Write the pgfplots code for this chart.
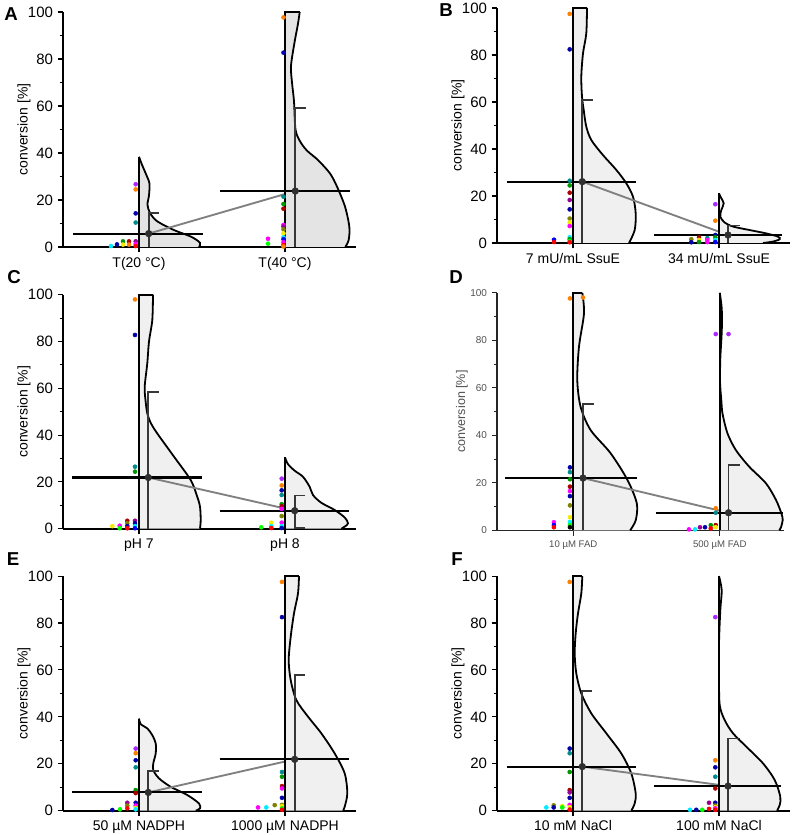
\documentclass[border=0pt]{standalone}
\usepackage{fontspec}
\setmainfont{Liberation Sans}
\usepackage{pgfplots}
\usepackage{pgfplotstable}
\pgfplotsset{compat=1.18}

\definecolor{cO}{RGB}{255,128,0}
\definecolor{cN}{RGB}{0,0,170}
\definecolor{cT}{RGB}{0,140,140}
\definecolor{cG}{RGB}{0,150,0}
\definecolor{cR}{RGB}{170,0,0}
\definecolor{cRR}{RGB}{255,0,0}
\definecolor{cP}{RGB}{170,40,255}
\definecolor{cM}{RGB}{255,0,255}
\definecolor{cY}{RGB}{245,235,0}
\definecolor{cC}{RGB}{0,235,255}
\definecolor{cL}{RGB}{128,128,0}
\definecolor{cK}{RGB}{0,0,0}
\definecolor{cLi}{RGB}{0,255,0}
\definecolor{cB}{RGB}{0,0,255}
\definecolor{cD}{RGB}{150,0,150}
\definecolor{errc}{RGB}{55,55,55}
\definecolor{linkc}{RGB}{128,128,128}
\definecolor{vfA}{RGB}{228,228,228}
\definecolor{vf}{RGB}{240,240,240}
\definecolor{dgray}{RGB}{80,80,80}

\pgfplotsset{
  panel/.style={
    scale only axis, width=219.75pt, height=176.25pt,
    xmin=-76, xmax=217, ymin=0, ymax=100,
    axis x line*=bottom, axis y line*=left,
    axis line style={line width=1.2pt},
    ytick={0,20,...,100}, minor ytick={10,30,...,90},
    tick align=outside, major tick length=4pt, minor tick length=2.5pt,
    xtick={0,146},
    every tick/.style={black, line width=0.8pt},
    /pgf/number format/assume math mode=true,
    yticklabel style={font=\fontsize{11.25}{13}\selectfont},
    xticklabel style={font=\fontsize{10.5}{12}\selectfont},
    ylabel={conversion [\%]},
    ylabel style={font=\fontsize{10.5}{12}\selectfont, at={(axis description cs:-0.133,0.5)}, anchor=center},
    clip=false,
  },
  pts/.style={
    scatter, only marks, scatter src=explicit symbolic,
    scatter/classes={
      o={mark=*, cO, mark size=1.5pt},
      n={mark=*, cN, mark size=1.5pt},
      t={mark=*, cT, mark size=1.5pt},
      g={mark=*, cG, mark size=1.5pt},
      r={mark=*, cR, mark size=1.5pt},
      R={mark=*, cRR, mark size=1.5pt},
      p={mark=*, cP, mark size=1.5pt},
      m={mark=*, cM, mark size=1.5pt},
      y={mark=*, cY, mark size=1.5pt},
      c={mark=*, cC, mark size=1.5pt},
      l={mark=*, cL, mark size=1.5pt},
      k={mark=*, cK, mark size=1.5pt},
      G={mark=*, cLi, mark size=1.5pt},
      b={mark=*, cB, mark size=1.5pt},
      D={mark=*, cD, mark size=1.5pt}
    },
  },
  vline/.style={black, line width=1.35pt},
  errbar/.style={errc, line width=1.3pt},
  meanline/.style={black, line width=1.6pt},
  linkline/.style={linkc, line width=1.4pt},
  meanmark/.style={only marks, mark=*, mark size=2.5pt, errc, mark options={fill=errc!85!black, draw=errc!85!black}},
}

% violin: table, last frame index k, k+1, fill colour
\newcommand{\violin}[4]{%
  \addplot[draw=none, fill=#4] table {#1} --cycle;
  \addplot[vline, skip coords between index={#3}{999}] table {#1};
  \addplot[vline, smooth, skip coords between index={0}{#2}] table {#1};
}

% ---------------- Panel A ----------------
\pgfplotstableread{
x y
0 0
0 38.4
3 35
8 30
10.5 27
10 22
8.5 18
11 14.5
18 11
35 7.2
52 4.4
61 1.8
60 0
}\vAa
\pgfplotstableread{
x y
146 0
146 100
160.7 100
159 95
155.5 87
152 77
153 70
155 62
156.5 50
161 45
168 41
179 37
191 31.3
198 25.7
206 17.2
210.3 8.7
209.7 3
206.3 0
}\vAb
\pgfplotstableread{
x y c
-3.3 26.7 p
-3.3 24.5 o
-3.3 14.3 n
-3.3 10.4 t
-3.3 2.4 D
-3.3 1.3 m
-3.3 0.4 R
-10 2.4 r
-10 1.0 o
-16 2.4 g
-16 1.0 y
-22 1.1 n
-28 0.4 c
144.5 97.7 o
144.5 82.7 n
144.5 21.4 t
144.5 18.3 g
144.5 16.3 r
144.5 9.4 m
144.5 8.7 D
144.5 7.5 l
144.5 5.8 y
144.5 4.1 c
144.5 3.3 b
144.5 2.0 m
144.5 0.9 R
144.5 0.2 o
129 3.5 m
129 1.4 G
}\pA

% ---------------- Panel B ----------------
\pgfplotstableread{
x y
0 0
0 100
14 100
13.3 89.2
10 80.7
8.3 70.8
9 62.3
10.7 56.6
13.3 49.5
18.3 43.8
30 37.4
43.3 31.1
53.3 25.4
60 19.7
62.7 12.6
61.7 5.5
56 0
}\vBa
\pgfplotstableread{
x y
146 0
146 21.1
147.7 19.5
150.7 16.9
148.3 14
147.3 11.2
151.7 8.7
160 7
176.7 5.5
193 4.1
205 2.7
206.7 1.6
200 0.6
190 0
}\vBb
\pgfplotstableread{
x y c
-3.3 97.5 o
-3.3 82.4 n
-3.3 26.5 t
-3.3 24.5 g
-3.3 21.4 r
-3.3 18.3 D
-3.3 14.3 n
-3.3 10.4 l
-3.3 8.7 y
-3.3 7.2 m
-3.3 2.4 c
-3.3 1.6 g
-3.3 0.8 G
-3.3 0.3 R
-19 1.4 b
-19 0.4 R
142.3 16.5 p
142.3 9.5 o
142.3 3.4 n
142.3 2.4 g
142.3 1.3 c
142.3 0.4 b
134.3 2.1 t
134.3 1.3 m
134.3 0.4 m
126 2.4 r
126 1.3 y
126 0.4 g
118.3 1.6 l
118.3 0.3 n
}\pB

% ---------------- Panel C ----------------
\pgfplotstableread{
x y
0 0
0 100
14 100
13.3 89.2
10 80
8.3 70.7
5.7 60.7
6.5 55
8.3 49.3
12 45
18.3 40.7
35 30.8
51.7 20.8
58 14
61 9.4
61.7 3.7
61 0
}\vCa
\pgfplotstableread{
x y
146 0
146 30.5
149 27.6
155.7 24.8
164 22.2
170.7 17.9
174 14.4
182.3 11.1
195.7 8
205.7 4.8
209 2.3
205.7 0.9
202.3 0
}\vCb
\pgfplotstableread{
x y c
-4 98 o
-4 82.8 n
-4 26.5 t
-4 24.4 g
-4 3.4 D
-4 2.3 n
-4 1.1 c
-4 0.2 b
-11.7 3.4 r
-11.7 2.3 l
-11.7 1.1 n
-11.7 0.2 R
-19.3 1.3 m
-19.3 0.2 G
-26.7 1.1 y
142.7 21.4 p
142.7 18.5 o
142.7 16.4 n
142.7 14.4 t
142.7 10.5 g
142.7 9.6 r
142.7 8.5 m
142.7 5.4 l
142.7 2.6 m
142.7 1.1 c
142.7 0.3 n
132.3 2.6 y
132.3 1.1 c
132.3 0.3 R
122.3 0.6 G
}\pC

% ---------------- Panel D ----------------
\pgfplotstableread{
x y
0 0
0 100
9 100
10.7 91.3
5.7 77.3
4 63.3
7.3 52
17.3 42.2
37.3 32.4
54 21.2
63.3 11.4
62.3 4.3
56.7 0
}\vDa
\pgfplotstableread{
x y
146 0
146 100
148 93
148 84
146.5 72
146.3 62
147.5 55
148.7 49.2
153.7 40.8
162 33.8
175.3 26.8
192 19.8
202 12.8
207.5 7
208.7 4.3
207 1.3
205.3 0
}\vDb
\pgfplotstableread{
x y c
-3.3 97.6 o
9.7 98 o
-3.3 26.5 n
-3.3 24.5 t
-3.3 21.5 g
-3.3 18.4 r
-3.3 16.5 m
-3.3 14.4 n
-3.3 10.5 l
-3.3 5.5 y
-3.3 3.5 c
-3.3 2.2 G
-3.3 1.3 k
-19.3 3.4 m
-19.3 2.2 b
-19.3 1.3 R
142 82.6 p
154.7 82.6 p
142 9.3 o
142 7.4 t
142 2.2 r
142 1.3 y
137 2.2 g
137 0.8 R
131.3 1.3 n
126.3 1.3 D
121.3 0.4 c
115.3 0.4 m
}\pD

% ---------------- Panel E ----------------
\pgfplotstableread{
x y
0 0
0 39.3
1.7 36.9
8.3 35.1
13.3 32.2
16.7 28.7
16.7 24.4
14.3 20.2
14.3 17.3
20 13.8
31.7 10.2
48.3 6.7
60 3.1
61 1
56.7 0
}\vEa
\pgfplotstableread{
x y
146 0
146 100
160 100
159 92.6
155 84.1
151.7 74.1
149.7 64.2
151.7 55.7
157.3 47.2
169 40.1
182.3 33
195.7 24.4
205.7 15.9
208.3 7.4
205.7 1.7
204 0
}\vEb
\pgfplotstableread{
x y c
-3.3 26.5 p
-3.3 24.5 o
-3.3 21.5 n
-3.3 18.5 t
-3.3 8.8 g
-3.3 7.5 r
-3.3 3.4 n
-3.3 2.2 m
-3.3 1.2 y
-3.3 0.6 c
-11.7 3.4 D
-11.7 2.2 l
-11.7 1.0 R
-19 0.6 G
-26.7 0.3 n
143 97.5 o
143 82.5 n
143 16.5 t
143 14.5 g
143 10.5 r
143 9.5 m
143 5.5 n
143 2.5 l
143 2.0 y
143 1.0 G
143 0.4 R
135.7 2.4 l
127.3 1.4 c
119 1.4 m
}\pE

% ---------------- Panel F ----------------
\pgfplotstableread{
x y
0 0
0 100
9.3 100
8.3 92.6
5 84.1
2.7 75.6
1.7 67
3.3 58.5
8.3 50
18.3 41.5
33.3 33
48.3 24.4
58.3 15.9
62.7 7.4
61.7 3.1
58.3 0
}\vFa
\pgfplotstableread{
x y
146 0
146 100
148.7 94
147.3 85.5
146 71.3
146 57
146.7 45
151.7 38.6
160 33
173.3 27.3
190 20.2
201.7 13.1
207.3 6
206.7 2.4
204 0
}\vFb
\pgfplotstableread{
x y c
-3.3 97.5 o
-3.3 26.5 n
-3.3 24.5 t
-3.3 16.5 g
-3.3 8.8 r
-3.3 7.8 D
-3.3 5.5 n
-3.3 2.5 m
-3.3 1.5 y
-3.3 0.5 R
-10.7 2.0 y
-10.7 1.4 G
-19.3 2.3 l
-19.3 1.4 n
-26.7 1.4 c
142.3 82.5 p
142.3 21.5 o
142.3 18.5 n
142.3 14.5 t
142.3 9.5 r
142.3 3.4 n
142.3 2.2 l
142.3 1.5 y
142.3 1.0 m
142.3 0.4 R
136 3.4 D
136 0.8 R
129.3 0.4 G
123.3 0.4 n
117 0.4 c
}\pF

\begin{document}
\begin{tikzpicture}
\path[use as bounding box] (0pt,0pt) rectangle (597pt,626.25pt);

\node[font=\fontsize{14}{16}\selectfont\bfseries] at (8.25pt,616pt) {A};
\node[font=\fontsize{14}{16}\selectfont\bfseries] at (334.5pt,618.5pt) {B};
\node[font=\fontsize{14}{16}\selectfont\bfseries] at (10.5pt,418.5pt) {C};
\node[font=\fontsize{14}{16}\selectfont\bfseries] at (342pt,418.5pt) {D};
\node[font=\fontsize{14}{16}\selectfont\bfseries] at (9.75pt,206.6pt) {E};
\node[font=\fontsize{14}{16}\selectfont\bfseries] at (342.75pt,207pt) {F};

% ===== A =====
\begin{axis}[panel, at={(47.25pt,441pt)}, anchor=south west,
  xticklabels={T(20 °C), T(40 °C)}]
\violin{\vAa}{1}{2}{vfA}
\addplot[linkline] coordinates {(9.7,5.7) (156.3,23.8)};
\violin{\vAb}{2}{3}{vfA}
\addplot[errbar] coordinates {(9.7,0) (9.7,14.6) (20.4,14.6)};
\addplot[errbar] coordinates {(156.3,0) (156.3,59) (167,59)};
\addplot[meanline] coordinates {(-66,5.7) (64,5.7)};
\addplot[meanline] coordinates {(81.3,23.8) (210.7,23.8)};
\addplot[meanmark] coordinates {(9.7,5.7) (156.3,23.8)};
\addplot[pts] table[meta=c] {\pA};
\end{axis}

% ===== B =====
\begin{axis}[panel, at={(372.75pt,444pt)}, anchor=south west,
  xticklabels={7 mU/mL SsuE, 34 mU/mL SsuE}]
\violin{\vBa}{2}{3}{vf}
\addplot[linkline] coordinates {(9.3,26.1) (155,3.4)};
\violin{\vBb}{1}{2}{vf}
\addplot[errbar] coordinates {(9.3,0) (9.3,60.9) (20,60.9)};
\addplot[errbar] coordinates {(155,0) (155,7.4) (166.5,7.4)};
\addplot[meanline] coordinates {(-66,26.1) (62.7,26.1)};
\addplot[meanline] coordinates {(81,3.4) (209,3.4)};
\addplot[meanmark] coordinates {(9.3,26.1) (155,3.4)};
\addplot[pts] table[meta=c] {\pB};
\end{axis}

% ===== C =====
\begin{axis}[panel, at={(47.25pt,229.7pt)}, anchor=south west, height=175.5pt,
  xticklabels={pH 7, pH 8}]
\violin{\vCa}{2}{3}{vf}
\addplot[linkline] coordinates {(9.3,21.9) (155.7,7.7)};
\violin{\vCb}{1}{2}{vf}
\addplot[errbar] coordinates {(9.3,0) (9.3,58.4) (20,58.4)};
\addplot[errbar] coordinates {(166.4,0.4) (155.7,0.4) (155.7,14.2) (166.4,14.2)};
\addplot[meanline] coordinates {(-66.7,21.9) (63.3,21.9)};
\addplot[meanline] coordinates {(80.7,7.7) (210,7.7)};
\addplot[meanmark] coordinates {(9.3,21.9) (155.7,7.7)};
\addplot[pts] table[meta=c] {\pC};
\end{axis}

% ===== D =====
\begin{axis}[panel, at={(372.75pt,228.5pt)}, anchor=south west,
  width=215.25pt, height=178.2pt, xmax=210,
  axis line style={line width=0.8pt, black!85},
  every tick/.style={black!85, line width=0.6pt},
  yticklabel style={font=\fontsize{7.5}{9}\selectfont, text=dgray},
  xticklabel style={font=\fontsize{7.2}{9}\selectfont, text=dgray},
  ylabel style={font=\fontsize{9.4}{11}\selectfont, text=dgray, at={(axis description cs:-0.122,0.5)}},
  xticklabels={10 µM FAD, 500 µM FAD}]
\violin{\vDa}{2}{3}{vf}
\addplot[linkline] coordinates {(9.7,22) (154.7,7.4)};
\violin{\vDb}{1}{2}{vf}
\addplot[errbar] coordinates {(9.7,0) (9.7,53.2) (20.7,53.2)};
\addplot[errbar] coordinates {(154.7,0) (154.7,27.6) (165.7,27.6)};
\addplot[meanline] coordinates {(-67.7,22) (63.3,22)};
\addplot[meanline] coordinates {(82,7.4) (209.3,7.4)};
\addplot[meanmark] coordinates {(9.7,22) (154.7,7.4)};
\addplot[pts] table[meta=c] {\pD};
\end{axis}

% ===== E =====
\begin{axis}[panel, at={(47.25pt,18.2pt)}, anchor=south west, height=176pt,
  xticklabels={50 µM NADPH, 1000 µM NADPH}]
\violin{\vEa}{1}{2}{vf}
\addplot[linkline] coordinates {(9.3,7.8) (155.7,21.9)};
\violin{\vEb}{2}{3}{vf}
\addplot[errbar] coordinates {(9.3,0) (9.3,17) (20,17)};
\addplot[errbar] coordinates {(155.7,0) (155.7,57.7) (166.4,57.7)};
\addplot[meanline] coordinates {(-66.7,7.8) (63.3,7.8)};
\addplot[meanline] coordinates {(80.7,21.9) (210,21.9)};
\addplot[meanmark] coordinates {(9.3,7.8) (155.7,21.9)};
\addplot[pts] table[meta=c] {\pE};
\end{axis}

% ===== F =====
\begin{axis}[panel, at={(372.75pt,18.2pt)}, anchor=south west, height=176pt,
  xticklabels={10 mM NaCl, 100 mM NaCl}]
\violin{\vFa}{2}{3}{vf}
\addplot[linkline] coordinates {(9.3,18.8) (155,10.5)};
\violin{\vFb}{1}{2}{vf}
\addplot[errbar] coordinates {(9.3,0) (9.3,51.1) (19.3,51.1)};
\addplot[errbar] coordinates {(155,0) (155,30.8) (166.7,30.8)};
\addplot[meanline] coordinates {(-66,18.8) (62.7,18.8)};
\addplot[meanline] coordinates {(80.7,10.5) (208.3,10.5)};
\addplot[meanmark] coordinates {(9.3,18.8) (155,10.5)};
\addplot[pts] table[meta=c] {\pF};
\end{axis}
\end{tikzpicture}
\end{document}
